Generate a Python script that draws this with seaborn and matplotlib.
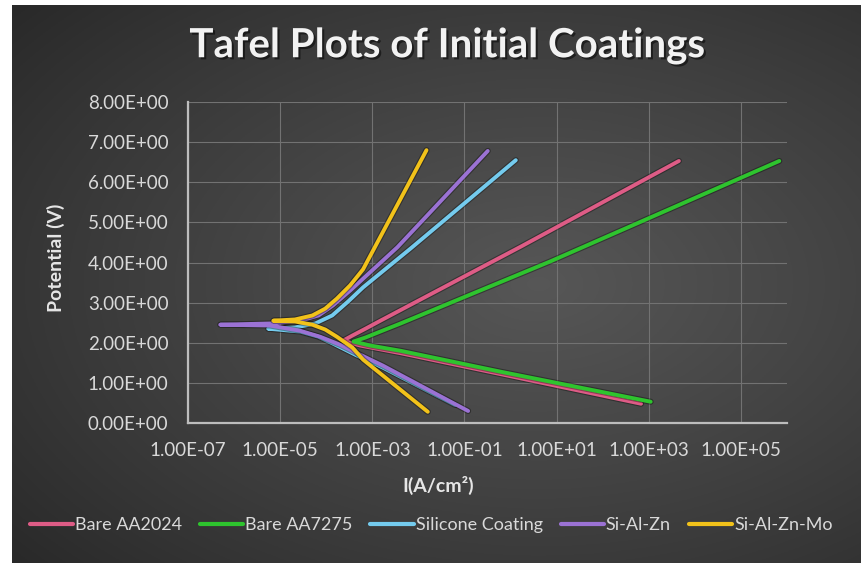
import numpy as np
import pandas as pd
import matplotlib
matplotlib.use("Agg")
import matplotlib.pyplot as plt
import matplotlib.patheffects as pe
from matplotlib.lines import Line2D
from matplotlib.ticker import FixedLocator, FuncFormatter
import seaborn as sns

# Polarisation data: current density (A/cm^2) and potential (V),
# each path runs from the cathodic end, through the corrosion point, to the anodic end.
series_names = ["Bare AA2024", "Bare AA7275", "Silicone Coating", "Si-Al-Zn", "Si-Al-Zn-Mo"]

aa2024_current = [6.8e2, 6.0e-1, 4.1e-3, 5.5e-4, 2.3e-4, 3.7e-4, 7.1e-4, 1.5e-3, 1.7e0, 4.5e3]
aa2024_potential = [0.48, 1.22, 1.74, 1.93, 2.05, 2.18, 2.35, 2.55, 4.40, 6.53]

aa7275_current = [1.1e3, 6.0e-1, 4.1e-3, 9.1e-4, 3.9e-4, 7.1e-4, 1.5e-3, 4.1e-3, 7.4e0, 6.8e5]
aa7275_potential = [0.53, 1.28, 1.80, 1.93, 2.03, 2.13, 2.28, 2.48, 4.03, 6.53]

silicone_current = [6.3e-2, 1.7e-3, 4.3e-4, 1.4e-4, 6.8e-5, 2.7e-5, 5.5e-6,
                    2.1e-5, 5.8e-5, 1.35e-4, 3.0e-4, 6.3e-4, 6.8e-3, 1.3e0]
silicone_potential = [0.45, 1.38, 1.70, 1.98, 2.15, 2.28, 2.35,
                      2.38, 2.48, 2.68, 3.03, 3.38, 4.35, 6.55]

sialzn_current = [1.2e-1, 1.7e-3, 5.5e-4, 2.0e-4, 7.4e-5, 2.7e-5, 6.0e-6, 5.0e-7,
                  6.0e-6, 2.7e-5, 6.8e-5, 1.4e-4, 3.3e-4, 3.5e-3, 3.2e-1]
sialzn_potential = [0.30, 1.43, 1.70, 1.95, 2.15, 2.30, 2.43, 2.45,
                    2.48, 2.55, 2.68, 2.93, 3.30, 4.38, 6.78]

sialznmo_current = [1.6e-2, 6.3e-4, 3.7e-4, 1.7e-4, 9.5e-5, 5.0e-5, 2.1e-5, 7.1e-6,
                    2.1e-5, 5.0e-5, 9.5e-5, 1.7e-4, 3.3e-4, 6.3e-4, 1.5e-2]
sialznmo_potential = [0.28, 1.58, 1.88, 2.15, 2.33, 2.45, 2.53, 2.55,
                      2.58, 2.68, 2.85, 3.10, 3.43, 3.83, 6.80]

x_ticks = [1e-7, 1e-5, 1e-3, 1e-1, 1e1, 1e3, 1e5]
y_ticks = [0, 1, 2, 3, 4, 5, 6, 7, 8]

colors = ["#DE5C86", "#2EC42E", "#74CBEE", "#9B72D4", "#F2C21A"]

frames = []
for name, cur, pot in zip(
    series_names,
    [aa2024_current, aa7275_current, silicone_current, sialzn_current, sialznmo_current],
    [aa2024_potential, aa7275_potential, silicone_potential, sialzn_potential, sialznmo_potential],
):
    frames.append(pd.DataFrame({"series": name, "current": cur, "potential": pot}))
df = pd.concat(frames, ignore_index=True)

sns.set_theme(style="dark")
plt.rcParams["font.family"] = ["Lato", "DejaVu Sans"]

W, H = 862, 563
fig = plt.figure(figsize=(W / 100, H / 100), dpi=100, facecolor="white")

# dark radial-gradient chart background
bg = fig.add_axes([12 / W, 0, 1 - 12 / W, 1 - 5 / H])
gy, gx = np.mgrid[0:1:300j, 0:1:460j]
r = np.sqrt(((gx - 0.62) / 0.85) ** 2 + ((gy - 0.5) / 0.8) ** 2)
shade = np.clip(1 - r, 0, 1) ** 0.9
c_edge = np.array([0.15, 0.15, 0.15])
c_mid = np.array([0.34, 0.34, 0.34])
img = c_edge + (c_mid - c_edge) * shade[..., None]
bg.imshow(img, aspect="auto", extent=[0, 1, 0, 1], origin="lower")
bg.axis("off")

ax = fig.add_axes([188 / W, 1 - 423 / H, (787 - 188) / W, (423 - 102) / H])
ax.set_facecolor("none")
ax.set_xscale("log")

sns.lineplot(
    data=df, x="current", y="potential", hue="series", hue_order=series_names,
    palette=colors, sort=False, estimator=None, linewidth=2.8, ax=ax, legend=False,
)
for line in ax.get_lines():
    line.set_solid_capstyle("round")
    line.set_solid_joinstyle("round")
    line.set_path_effects([pe.Stroke(linewidth=4.4, foreground=(0, 0, 0, 0.35)), pe.Normal()])

ax.set_xlim(1e-7, 1e6)
ax.set_ylim(0, 8)
ax.xaxis.set_major_locator(FixedLocator(x_ticks))
ax.xaxis.set_minor_locator(FixedLocator([]))
ax.yaxis.set_major_locator(FixedLocator(y_ticks))
fmt = FuncFormatter(lambda v, p: f"{v:.2E}")
ax.xaxis.set_major_formatter(fmt)
ax.yaxis.set_major_formatter(fmt)

ax.grid(True, color="#727272", linewidth=0.8)
for s in ["top", "right"]:
    ax.spines[s].set_visible(False)
for s in ["left", "bottom"]:
    ax.spines[s].set_visible(True)
    ax.spines[s].set_color("#bdbdbd")
    ax.spines[s].set_linewidth(1.6)
ax.tick_params(axis="both", length=0, colors="#d9d9d9", labelsize=13.5)
ax.tick_params(axis="x", pad=14)
ax.tick_params(axis="y", pad=14)

ax.set_xlabel("I(A/cm²)", color="#e6e6e6", fontsize=14, fontweight="bold")
ax.set_ylabel("Potential (V)", color="#e6e6e6", fontsize=14, fontweight="bold")
ax.xaxis.set_label_coords((438 - 188) / 599, (423 - 476) / 321)
ax.yaxis.set_label_coords((65 - 188) / 599, (423 - 258) / 321)

fig.text(447 / W, 1 - 46 / H, "Tafel Plots of Initial Coatings", ha="center", va="center",
         color="#f2f2f2", fontsize=29, fontweight="bold",
         path_effects=[pe.withSimplePatchShadow(offset=(1.5, -1.5), shadow_rgbFace="black", alpha=0.5)])

handles = [Line2D([0], [0], color=c, linewidth=3) for c in colors]
fig.legend(handles, series_names, loc="center", bbox_to_anchor=(431 / W, 1 - 525 / H), ncol=5,
           frameon=False, fontsize=13, labelcolor="#d9d9d9", handlelength=2.4,
           handletextpad=0.1, columnspacing=1.0)

fig.savefig("out.png", dpi=100, facecolor=fig.get_facecolor())
